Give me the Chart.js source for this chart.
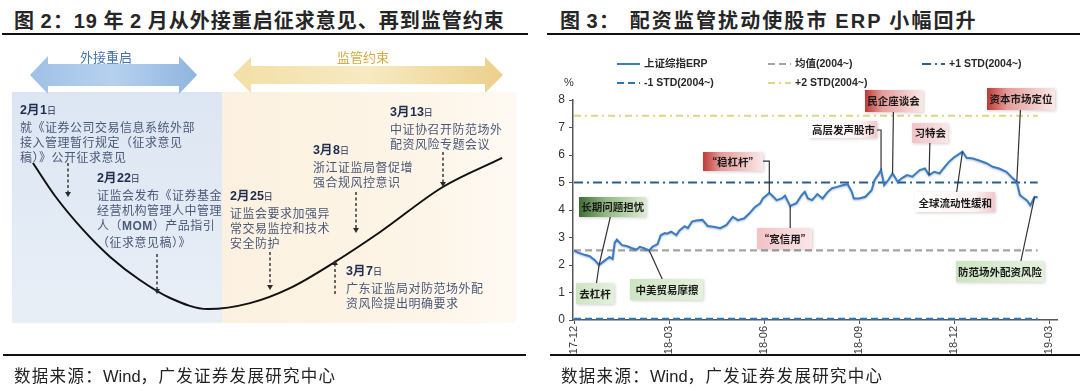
<!DOCTYPE html>
<html lang="zh-CN">
<head>
<meta charset="utf-8">
<title>配资监管与股市ERP</title>
<script src="https://cdn.jsdelivr.net/npm/chart.js@4.4.1/dist/chart.umd.min.js"></script>
<style>
  html, body { margin: 0; padding: 0; background: #fff; }
  #page { position: relative; width: 1080px; height: 391px; overflow: hidden;
          font-family: "Noto Sans CJK SC", "Liberation Sans", sans-serif; color: #222; }
  .abs { position: absolute; }
  .title { position: absolute; top: 5px; font-size: 20px; font-weight: bold; color: #262626;
           white-space: nowrap; letter-spacing: 1px; }
  .title b { font-family: "Liberation Sans", Arial, sans-serif; }
  .rule { position: absolute; height: 2px; background: #111; }
  .src { position: absolute; top: 363px; font-size: 16.5px; color: #222; white-space: nowrap; letter-spacing: 1.3px; }
  .src span { font-family: "Liberation Sans", Arial, sans-serif; letter-spacing: 0; }
  .panel-blue { position: absolute; left: 12px; top: 92px; width: 210px; height: 231px;
                background: linear-gradient(180deg, #dce6f2 0%, #e3ebf5 60%, #e9eff7 100%); }
  .panel-tan { position: absolute; left: 222px; top: 92px; width: 294px; height: 231px;
               background: linear-gradient(90deg, #fcf1df 0%, #fdf5e8 70%, #fefaf3 100%); }
  .ev { position: absolute; white-space: nowrap; }
  .dt { font-family: "Liberation Sans", Arial, sans-serif; font-weight: bold; font-size: 12.5px;
        color: #1d2b4f; height: 17px; line-height: 17px; }
  .dt small { font-family: "Noto Sans CJK SC", sans-serif; font-size: 9px; font-weight: normal; }
  .ds { font-size: 12px; line-height: 15px; color: #4a587a; letter-spacing: 0.5px; }
  .ds b { font-family: "Liberation Sans", Arial, sans-serif; }
  .phase { position: absolute; top: 47px; font-size: 13px; white-space: nowrap; }
</style>
</head>
<body>
<div id="page">
  <!-- left panel -->
  <div class="title" style="left:14px;">图 <b>2：19</b> 年 <b>2</b> 月从外接重启征求意见、再到监管约束</div>
  <div class="rule" style="left:2px; width:526px; top:33px;"></div>

  <div class="panel-blue"></div>
  <div class="panel-tan"></div>

  <canvas id="curve" class="abs" width="540" height="300" style="left:0; top:40px;"></canvas>

  <svg class="abs" style="left:0; top:0;" width="540" height="340">
    <defs>
      <linearGradient id="gBlue" x1="0" y1="0" x2="1" y2="0">
        <stop offset="0" stop-color="#9fc1e6"/><stop offset="0.5" stop-color="#b7d1ee"/><stop offset="1" stop-color="#8fb5df"/>
      </linearGradient>
      <linearGradient id="gTan" x1="0" y1="0" x2="1" y2="0">
        <stop offset="0" stop-color="#f3dfa6"/><stop offset="0.5" stop-color="#f7e9c2"/><stop offset="1" stop-color="#ecd08a"/>
      </linearGradient>
    </defs>
    <polygon fill="url(#gBlue)" points="30,75 48,56 48,64 179,64 179,56 197,75 179,94 179,86 48,86 48,94"/>
    <polygon fill="url(#gTan)" points="233,75 251,57 251,66 485,66 485,57 503,75 485,93 485,84 251,84 251,93"/>
    <g stroke="#2b2b2b" stroke-width="1.4" stroke-dasharray="3,2.5" fill="none">
      <line x1="68" y1="163" x2="68" y2="192"/>
      <line x1="157" y1="254" x2="157" y2="289"/>
      <line x1="270" y1="252" x2="270" y2="285"/>
      <line x1="356" y1="192" x2="356" y2="228"/>
      <line x1="443" y1="152" x2="443" y2="182"/>
      <line x1="335" y1="294" x2="335" y2="265"/>
    </g>
    <g fill="#2b2b2b">
      <polygon points="65,192 71,192 68,197"/>
      <polygon points="154,289 160,289 157,294"/>
      <polygon points="267,285 273,285 270,290"/>
      <polygon points="353,228 359,228 356,233"/>
      <polygon points="440,182 446,182 443,187"/>
      <polygon points="332,265 338,265 335,260"/>
    </g>
  </svg>

  <div class="phase" style="left:80px; color:#4373b3;">外接重启</div>
  <div class="phase" style="left:337px; color:#d6ab45;">监管约束</div>

  <div class="ev" style="left:20px; top:102px;">
    <div class="dt">2月1<small>日</small></div>
    <div class="ds">就《证券公司交易信息系统外部<br>接入管理暂行规定（征求意见<br>稿）》公开征求意见</div>
  </div>
  <div class="ev" style="left:97px; top:170px;">
    <div class="dt">2月22<small>日</small></div>
    <div class="ds">证监会发布《证券基金<br>经营机构管理人中管理<br>人（<b>MOM</b>）产品指引<br>（征求意见稿）》</div>
  </div>
  <div class="ev" style="left:230px; top:188px;">
    <div class="dt">2月25<small>日</small></div>
    <div class="ds">证监会要求加强异<br>常交易监控和技术<br>安全防护</div>
  </div>
  <div class="ev" style="left:313px; top:142px;">
    <div class="dt">3月8<small>日</small></div>
    <div class="ds">浙江证监局督促增<br>强合规风控意识</div>
  </div>
  <div class="ev" style="left:390px; top:104px;">
    <div class="dt">3月13<small>日</small></div>
    <div class="ds">中证协召开防范场外<br>配资风险专题会议</div>
  </div>
  <div class="ev" style="left:346px; top:263px;">
    <div class="dt">3月7<small>日</small></div>
    <div class="ds">广东证监局对防范场外配<br>资风险提出明确要求</div>
  </div>

  <div class="rule" style="left:3px; width:523px; top:354px;"></div>
  <div class="src" style="left:14px;">数据来源：<span>Wind</span>，广发证券发展研究中心</div>

  <!-- right panel -->
  <div class="title" style="left:560px;">图 <b>3：</b><span style="margin-left:10px; letter-spacing:2.1px;">配资监管扰动使股市 <b>ERP</b> 小幅回升</span></div>
  <div class="rule" style="left:547px; width:533px; top:33px;"></div>

  <canvas id="erp" class="abs" width="540" height="315" style="left:540px; top:40px;"></canvas>

  <div class="rule" style="left:550px; width:530px; top:354px;"></div>
  <div class="src" style="left:561px;">数据来源：<span>Wind</span>，广发证券发展研究中心</div>
</div>

<script>
// ---- left schematic: sentiment curve (arbitrary units, 0-100) ----
const curveT     = [6.1, 10.2, 15.4, 20.4, 25.9, 31.5, 38.5, 46.3, 53.7, 62.0, 70.4, 82.0, 93.0];
const curveLevel = [59, 48, 36.7, 27.7, 20, 14, 10.3, 12.3, 17.3, 26, 36, 51, 60.7];

// ---- right chart data: 上证综指 ERP (%) ----
const erpDates = [
  '2017-12-29','2018-01-02','2018-01-08','2018-01-13','2018-01-18','2018-01-22','2018-01-27','2018-02-01',
  '2018-02-04','2018-02-06','2018-02-08','2018-02-13','2018-02-18','2018-02-22','2018-02-27','2018-03-02',
  '2018-03-06','2018-03-11','2018-03-14','2018-03-19','2018-03-22','2018-03-26','2018-03-28','2018-04-01',
  '2018-04-06','2018-04-09','2018-04-14','2018-04-17','2018-04-21','2018-04-25','2018-05-01','2018-05-06',
  '2018-05-13','2018-05-18','2018-05-24','2018-05-30','2018-06-04','2018-06-10','2018-06-15','2018-06-20',
  '2018-06-25','2018-06-28','2018-07-04','2018-07-07','2018-07-11','2018-07-16','2018-07-19','2018-07-24',
  '2018-07-30','2018-08-04','2018-08-07','2018-08-10','2018-08-14','2018-08-19','2018-08-24','2018-08-29',
  '2018-09-02','2018-09-07','2018-09-12','2018-09-17','2018-09-21','2018-09-23','2018-09-28','2018-10-04',
  '2018-10-10','2018-10-13','2018-10-16','2018-10-19','2018-10-22','2018-10-26','2018-10-30','2018-11-04',
  '2018-11-08','2018-11-13','2018-11-18','2018-11-25','2018-11-30','2018-12-04','2018-12-09','2018-12-14',
  '2018-12-19','2018-12-23','2018-12-28','2019-01-02','2019-01-05','2019-01-09','2019-01-15','2019-01-21',
  '2019-01-28','2019-02-03','2019-02-09','2019-02-16','2019-02-22','2019-02-26','2019-03-01','2019-03-03',
  '2019-03-08','2019-03-11','2019-03-15','2019-03-18'
];
const erpValues = [
  2.52, 2.45, 2.37, 2.32, 2.17, 2.00, 2.15, 2.29,
  2.22, 2.81, 2.92, 2.72, 2.68, 2.62, 2.56, 2.66,
  2.61, 2.53, 2.66, 2.76, 3.08, 3.16, 3.14, 3.21,
  3.09, 3.26, 3.41, 3.34, 3.58, 3.62, 3.64, 3.42,
  3.38, 3.34, 3.46, 3.75, 3.63, 3.70, 3.88, 4.10,
  4.23, 4.43, 4.62, 4.52, 4.36, 4.42, 4.52, 4.15,
  4.25, 4.54, 4.66, 4.42, 4.36, 4.58, 4.42, 4.66,
  4.79, 4.84, 4.90, 4.94, 4.66, 4.42, 4.42, 4.48,
  4.72, 5.10, 5.26, 5.45, 4.91, 5.09, 5.33, 5.03,
  5.16, 5.27, 5.21, 5.45, 5.51, 5.27, 5.39, 5.33,
  5.57, 5.75, 5.92, 6.04, 6.12, 5.90, 5.87, 5.80,
  5.70, 5.57, 5.51, 5.39, 5.16, 5.02, 4.54, 4.48,
  4.34, 4.17, 4.48, 4.46
];
const meanValue  = 2.53;   // 均值(2004~)
const plus1Std   = 5.00;   // +1 STD(2004~)
const minus1Std  = 0.05;   // -1 STD(2004~)
const plus2Std   = 7.43;   // +2 STD(2004~)

const tickDates  = ['2017-12-29','2018-03-30','2018-06-29','2018-09-28','2018-12-28','2019-03-29'];
const tickLabels = ['17-12','18-03','18-06','18-09','18-12','19-03'];

const eventNotes = [
  { text: '“稳杠杆”',         style: 'red',       at: ['2018-05-30', 5.78], w: 60, h: 19, leader: [['2018-07-04', 5.78], ['2018-07-04', 4.62]] },
  { text: '“宽信用”',         style: 'pink',      at: ['2018-07-19', 2.95], w: 55, h: 21, leader: [['2018-07-24', 2.95], ['2018-07-24', 4.15]] },
  { text: '高层发声股市',      style: 'whitePink', at: ['2018-09-13', 6.91], w: 68, h: 17, leader: [['2018-10-19', 6.91], ['2018-10-19', 5.45]] },
  { text: '民企座谈会',        style: 'red',       at: ['2018-10-31', 7.98], w: 58, h: 22, leader: [['2018-10-30', 5.33]] },
  { text: '习特会',           style: 'pink',      at: ['2018-12-05', 6.80], w: 36, h: 20, leader: [['2018-12-04', 5.27]] },
  { text: '全球流动性缓和',     style: 'whitePink', at: ['2018-12-29', 4.29], w: 80, h: 20, leader: [['2019-01-05', 6.12]] },
  { text: '资本市场定位',      style: 'red',       at: ['2019-03-02', 8.04], w: 68, h: 22, leader: [['2019-02-26', 5.02]] },
  { text: '防范场外配资风险',   style: 'green',     at: ['2019-02-10', 1.75], w: 88, h: 21, leader: [['2019-02-28', 1.80], ['2019-03-15', 4.48]] },
  { text: '长期问题担忧',      style: 'greenDark', at: ['2018-02-04', 4.11], w: 67, h: 20, leader: [['2018-01-22', 2.00]] },
  { text: '去杠杆',           style: 'green',     at: ['2018-01-18', 0.95], w: 38, h: 21, leader: [['2018-01-22', 2.00]] },
  { text: '中美贸易摩擦',      style: 'green',     at: ['2018-03-28', 1.11], w: 73, h: 21, leader: [['2018-03-11', 2.53]] }
];

const boxStyles = {
  red:       [[0, '#bf3a35'], [0.3, '#e49c9a'], [1, '#fbe8e8']],
  pink:      [[0, '#f2c2c6'], [1, '#fbe6e8']],
  whitePink: [[0, '#ffffff'], [0.75, '#fdf2f2'], [1, '#f2c6c9']],
  green:     [[0, '#cde4c2'], [1, '#e5f1de']],
  greenDark: [[0, '#3e6d34'], [0.4, '#93b884'], [1, '#dcebd4']]
};

const BASE = Date.UTC(2017, 11, 29);
function dayOf(s) {
  const [y, m, d] = s.split('-').map(Number);
  return Math.round((Date.UTC(y, m - 1, d) - BASE) / 86400000);
}

// ---- schematic curve ----
new Chart(document.getElementById('curve'), {
  type: 'line',
  data: {
    datasets: [{
      data: curveT.map((t, i) => ({ x: t, y: curveLevel[i] })),
      borderColor: '#111',
      borderWidth: 2,
      pointRadius: 0,
      cubicInterpolationMode: 'monotone'
    }]
  },
  options: {
    responsive: false,
    animation: false,
    layout: { padding: 0 },
    plugins: { legend: { display: false }, tooltip: { enabled: false } },
    scales: {
      x: { type: 'linear', display: false, min: 0, max: 100 },
      y: { display: false, min: 0, max: 100 }
    }
  }
});

// ---- ERP chart ----
const firstDay = dayOf(erpDates[0]);
const lastDay = dayOf(erpDates[erpDates.length - 1]);
const flat = v => [{ x: firstDay, y: v }, { x: lastDay, y: v }];

const lineShadow = {
  id: 'lineShadow',
  beforeDatasetDraw(chart, args) {
    if (args.index !== 0) return;
    const ctx = chart.ctx;
    ctx.save();
    ctx.shadowColor = 'rgba(40,70,110,0.35)';
    ctx.shadowBlur = 2;
    ctx.shadowOffsetY = 1;
  },
  afterDatasetDraw(chart, args) {
    if (args.index === 0) chart.ctx.restore();
  }
};

// legend slots in canvas pixels
const legendSlots = [[77, 24], [228, 24], [382, 24], [77, 43], [228, 43]];

const customLegend = {
  id: 'customLegend',
  afterDraw(chart) {
    const ctx = chart.ctx;
    ctx.save();
    chart.data.datasets.forEach((ds, i) => {
      const [lx, ly] = legendSlots[i];
      ctx.strokeStyle = ds.borderColor;
      ctx.lineWidth = ds.borderWidth;
      ctx.setLineDash(ds.borderDash || []);
      ctx.beginPath();
      ctx.moveTo(lx, ly);
      ctx.lineTo(lx + 23, ly);
      ctx.stroke();
      ctx.setLineDash([]);
      ctx.fillStyle = '#2a2a2a';
      ctx.font = 'bold 10.5px "Liberation Sans", "Noto Sans CJK SC", sans-serif';
      ctx.textAlign = 'left';
      ctx.textBaseline = 'middle';
      ctx.fillText(ds.label, lx + 27, ly + 0.5);
    });
    ctx.font = '11px "Liberation Sans", Arial, sans-serif';
    ctx.fillStyle = '#333';
    ctx.textAlign = 'center';
    ctx.fillText('%', 29, 43);
    ctx.restore();
  }
};

const notesPlugin = {
  id: 'eventNotes',
  afterDatasetsDraw(chart) {
    const { ctx, scales: { x, y } } = chart;
    const px = d => x.getPixelForValue(dayOf(d));
    const py = v => y.getPixelForValue(v);
    ctx.save();
    ctx.strokeStyle = '#333';
    ctx.lineWidth = 1.2;
    eventNotes.forEach(n => {
      ctx.beginPath();
      ctx.moveTo(px(n.at[0]), py(n.at[1]));
      n.leader.forEach(p => ctx.lineTo(px(p[0]), py(p[1])));
      ctx.stroke();
    });
    eventNotes.forEach(n => {
      const cx = px(n.at[0]), cy = py(n.at[1]);
      const x0 = Math.round(cx - n.w / 2), y0 = Math.round(cy - n.h / 2);
      const g = ctx.createLinearGradient(x0, 0, x0 + n.w, 0);
      boxStyles[n.style].forEach(([o, c]) => g.addColorStop(o, c));
      ctx.shadowColor = 'rgba(0,0,0,0.18)';
      ctx.shadowBlur = 3;
      ctx.shadowOffsetX = 1;
      ctx.shadowOffsetY = 1;
      ctx.fillStyle = g;
      ctx.fillRect(x0, y0, n.w, n.h);
      ctx.shadowColor = 'transparent';
      ctx.fillStyle = '#1a1a1a';
      ctx.font = 'bold 10.5px "Noto Sans CJK SC", sans-serif';
      ctx.textAlign = 'center';
      ctx.textBaseline = 'middle';
      ctx.fillText(n.text, cx, cy + 0.5);
    });
    ctx.restore();
  }
};

new Chart(document.getElementById('erp'), {
  type: 'line',
  data: {
    datasets: [
      {
        label: '上证综指ERP',
        data: erpDates.map((d, i) => ({ x: dayOf(d), y: erpValues[i] })),
        borderColor: '#3a7cc2',
        borderWidth: 2,
        pointRadius: 0,
        tension: 0,
        order: 0
      },
      {
        label: '均值(2004~)',
        data: flat(meanValue),
        borderColor: '#a3a3a3',
        borderWidth: 2.2,
        borderDash: [7, 4],
        pointRadius: 0,
        order: 1
      },
      {
        label: '+1 STD(2004~)',
        data: flat(plus1Std),
        borderColor: '#2c5d8f',
        borderWidth: 2,
        borderDash: [9, 4, 2, 4],
        pointRadius: 0,
        order: 1
      },
      {
        label: '-1 STD(2004~)',
        data: flat(minus1Std),
        borderColor: '#2e75b6',
        borderWidth: 2,
        borderDash: [7, 4],
        pointRadius: 0,
        order: 1
      },
      {
        label: '+2 STD(2004~)',
        data: flat(plus2Std),
        borderColor: '#dcd682',
        borderWidth: 2,
        borderDash: [7, 4, 2, 4],
        pointRadius: 0,
        order: 1
      }
    ]
  },
  options: {
    responsive: false,
    animation: false,
    layout: { padding: { left: 5, right: 23, top: 60, bottom: 0 } },
    plugins: { legend: { display: false }, tooltip: { enabled: false } },
    scales: {
      x: {
        type: 'linear',
        min: -1,
        max: 462.5,
        afterBuildTicks: axis => { axis.ticks = tickDates.map(d => ({ value: dayOf(d) })); },
        afterFit: axis => { axis.height = 35; },
        ticks: {
          autoSkip: false,
          minRotation: 90,
          maxRotation: 90,
          padding: 2,
          color: '#3a3a3a',
          font: { family: '"Liberation Sans", Arial, sans-serif', size: 11 },
          callback: (v, i) => tickLabels[i]
        },
        grid: { drawOnChartArea: false, drawTicks: true, tickLength: 4, color: '#555' },
        border: { display: true, color: '#555', width: 1.5 }
      },
      y: {
        min: 0,
        max: 8,
        afterFit: axis => { axis.width = 28; },
        ticks: {
          stepSize: 1,
          padding: 4,
          color: '#333',
          font: { family: '"Liberation Sans", Arial, sans-serif', size: 12 }
        },
        grid: { drawOnChartArea: false, drawTicks: true, tickLength: 4, color: '#555' },
        border: { display: true, color: '#555', width: 1.5 }
      }
    }
  },
  plugins: [lineShadow, notesPlugin, customLegend]
});
</script>
</body>
</html>
